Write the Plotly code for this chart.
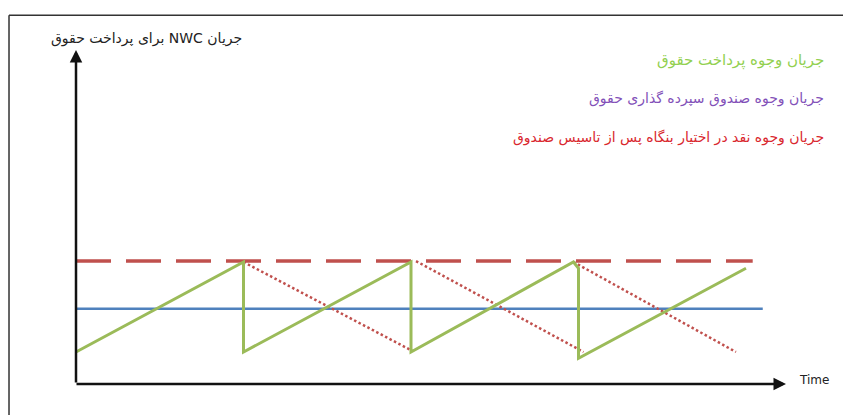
import plotly.graph_objects as go

# time in pay periods, level in "units" (0 = low point, 1 = high point)
green_t = [0.0, 1.0, 1.0, 2.0, 2.0, 2.97, 3.0, 3.0, 4.0]
green_v = [0.0, 1.0, 0.0, 1.0, 0.0, 1.0, 0.93, -0.07, 0.93]

dot1_t = [1.0, 2.0]
dot1_v = [1.0, 0.02]
dot2_t = [2.03, 3.03]
dot2_v = [1.01, 0.0]
dot3_t = [2.97, 3.94]
dot3_v = [1.0, 0.0]

dash_t = [0.0, 4.04]
dash_v = [1.01, 1.01]

blue_t = [0.0, 4.10]
blue_v = [0.48, 0.48]

y_title = "جریان NWC برای پرداخت حقوق"
x_title = "Time"
labels = ["جریان وجوه پرداخت حقوق",
          "جریان وجوه صندوق سپرده گذاری حقوق",
          "جریان وجوه نقد در اختیار بنگاه پس از تاسیس صندوق"]
label_colors = ["#92D050", "#8250B8", "#D9272E"]

W, H = 851, 415
OFF = 8              # page body margin
x0, sx = 76, 167.5   # screen pixel of t=0, pixels per period
y0, sy = 352, 90     # screen pixel of v=0, pixels per unit


def px_t(p):
    return (p - x0) / sx


def px_v(p):
    return (y0 - p) / sy


rtl = lambda s: "\u202b" + s + "\u202c"

fig = go.Figure()
fig.add_trace(go.Scatter(x=blue_t, y=blue_v, mode="lines",
                         line=dict(color="#4F81BD", width=2.5)))
fig.add_trace(go.Scatter(x=dash_t, y=dash_v, mode="lines",
                         line=dict(color="#C0504D", width=3.5, dash="35px,15px")))
for tt, vv in [(dot1_t, dot1_v), (dot2_t, dot2_v), (dot3_t, dot3_v)]:
    fig.add_trace(go.Scatter(x=tt, y=vv, mode="lines",
                             line=dict(color="#C0504D", width=2.5, dash="2.5px,2.5px")))
fig.add_trace(go.Scatter(x=green_t, y=green_v, mode="lines",
                         line=dict(color="#9BBB59", width=3)))

base = px_v(384)
# axes with arrowheads
fig.add_annotation(x=0, y=px_v(50), ax=0, ay=base, xref="x", yref="y",
                   axref="x", ayref="y", text="", showarrow=True,
                   arrowhead=2, arrowsize=1, arrowwidth=2.5, arrowcolor="#111")
fig.add_annotation(x=px_t(786), y=base, ax=px_t(75), ay=base, xref="x", yref="y",
                   axref="x", ayref="y", text="", showarrow=True,
                   arrowhead=2, arrowsize=1, arrowwidth=2.5, arrowcolor="#111")

fig.add_annotation(x=px_t(244), y=px_v(38), xref="x", yref="y", text=rtl(y_title),
                   showarrow=False, xanchor="right", yanchor="middle",
                   font=dict(size=14, color="#222"))
fig.add_annotation(x=px_t(797), y=px_v(380), xref="x", yref="y", text=x_title,
                   showarrow=False, xanchor="left", yanchor="middle",
                   font=dict(size=12, color="#222"))
for lab, col, yp, sz in zip(labels, label_colors, [60, 98, 137], [15, 14, 14]):
    fig.add_annotation(x=px_t(826), y=px_v(yp), xref="x", yref="y", text=rtl(lab),
                       showarrow=False, xanchor="right", yanchor="middle",
                       font=dict(size=sz, color=col))

# frame of the original slide crop
fw, fh = W - OFF, H - OFF
fig.add_shape(type="line", xref="paper", yref="paper", x0=(9 - OFF) / fw, x1=1,
              y0=1 - (15 - OFF) / fh, y1=1 - (15 - OFF) / fh,
              line=dict(color="#333", width=1.5))
fig.add_shape(type="line", xref="paper", yref="paper", x0=(9 - OFF) / fw,
              x1=(9 - OFF) / fw, y0=0, y1=1 - (15 - OFF) / fh,
              line=dict(color="#333", width=1.5))

fig.update_layout(width=W, height=H, margin=dict(l=0, r=0, t=0, b=0),
                  paper_bgcolor="white", plot_bgcolor="white", showlegend=False,
                  font=dict(family="DejaVu Sans"),
                  xaxis=dict(range=[px_t(OFF), px_t(W + OFF)], visible=False, fixedrange=True),
                  yaxis=dict(range=[px_v(H + OFF), px_v(OFF)], visible=False, fixedrange=True))

fig.write_html("out.html")
